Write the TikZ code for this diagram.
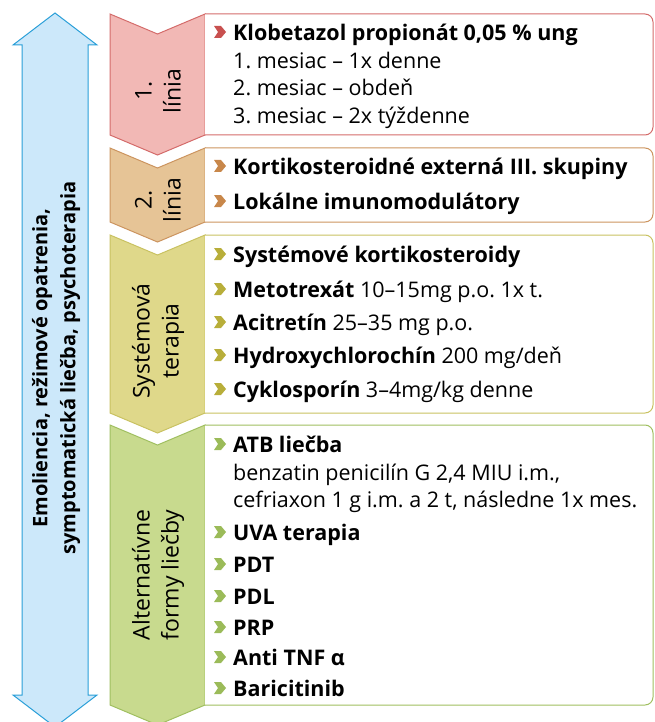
\documentclass[tikz,border=0pt]{standalone}
\usepackage{fontspec}
\setmainfont{Open Sans}
\frenchspacing
\definecolor{arrfill}{HTML}{CCE8FA}
\definecolor{arrline}{HTML}{2A9FD8}
\definecolor{onefill}{HTML}{F2B8B5}
\definecolor{oneline}{HTML}{D46C6B}
\definecolor{onebul}{HTML}{C8504F}
\definecolor{twofill}{HTML}{E6C496}
\definecolor{twoline}{HTML}{CC9560}
\definecolor{twobul}{HTML}{C8874A}
\definecolor{sysfill}{HTML}{DFD88A}
\definecolor{sysline}{HTML}{C9C262}
\definecolor{sysbul}{HTML}{B8AE3A}
\definecolor{altfill}{HTML}{C8DA8E}
\definecolor{altline}{HTML}{A0BF60}
\definecolor{altbul}{HTML}{9BBB59}
\newcommand{\bulmark}[2]{\fill[#1,shift={(220,#2)}] (-6,-6) -- (1,-6) -- (6,0) -- (1,6) -- (-6,6) -- (-2,0) -- cycle;}
\tikzset{
  chev/.style={line width=1pt},
  itembox/.style={fill=white,line width=1pt,rounded corners=8pt},
  item/.style={anchor=west,inner sep=0pt,text height=14.8pt,text depth=0pt,font=\fontsize{21.5}{26}\selectfont},
  chevtext/.style={rotate=90,align=center,font=\fontsize{23}{29}\selectfont},
}
\begin{document}
\begin{tikzpicture}[x=1pt,y=-1pt]
  \useasboundingbox (0,0) rectangle (655,722);
  % double arrow on the left
  \draw[fill=arrfill,draw=arrline,line width=1pt] (22,45) -- (13,45) -- (55,13) -- (97,45) -- (88,45)
    -- (88,695) -- (97,695) -- (55,727) -- (13,695) -- (22,695) -- cycle;
  \node[rotate=90,align=center,font=\bfseries\fontsize{20}{28}\selectfont] (care) at (56,368)
    {Emoliencia, režimové opatrenia,\\symptomatická liečba, psychoterapia};
  % 1. linia
  \draw[chev,fill=onefill,draw=oneline] (110,14) -- (157.5,34) -- (205,14) -- (205,135) -- (157.5,155) -- (110,135) -- cycle;
  \draw[itembox,draw=oneline] (205,135) -- (653,135) -- (653,14) -- (205,14);
  \node[chevtext] (first) at (158,91) {1.\\línia};
  \bulmark{onebul}{32}
  \node[item] (klob) at (233,33) {\textbf{Klobetazol propionát 0,05 \% ung}};
  \node[item] (m1) at (233,61) {1. mesiac – 1x denne};
  \node[item] (m2) at (233,88) {2. mesiac – obdeň};
  \node[item] (m3) at (233,116) {3. mesiac – 2x týždenne};
  % 2. linia
  \draw[chev,fill=twofill,draw=twoline] (110,148) -- (157.5,168) -- (205,148) -- (205,222) -- (157.5,242) -- (110,222) -- cycle;
  \draw[itembox,draw=twoline] (205,222) -- (653,222) -- (653,148) -- (205,148);
  \node[chevtext] (second) at (158,200) {2.\\línia};
  \bulmark{twobul}{166}
  \node[item] (kort) at (233,167) {\textbf{Kortikosteroidné externá III. skupiny}};
  \bulmark{twobul}{201}
  \node[item] (imun) at (233,202) {\textbf{Lokálne imunomodulátory}};
  % systemova terapia
  \draw[chev,fill=sysfill,draw=sysline] (110,235) -- (157.5,255) -- (205,235) -- (205,413) -- (157.5,433) -- (110,413) -- cycle;
  \draw[itembox,draw=sysline] (205,413) -- (653,413) -- (653,235) -- (205,235);
  \node[chevtext] (syst) at (158,341) {Systémová\\terapia};
  \bulmark{sysbul}{254}
  \node[item] (skort) at (233,255) {\textbf{Systémové kortikosteroidy}};
  \bulmark{sysbul}{289}
  \node[item] (mtx) at (233,290) {\textbf{Metotrexát} 10–15mg p.o. 1x t.};
  \bulmark{sysbul}{322}
  \node[item] (acit) at (233,323) {\textbf{Acitretín} 25–35 mg p.o.};
  \bulmark{sysbul}{355}
  \node[item] (hcq) at (233,356) {\textbf{Hydroxychlorochín} 200 mg/deň};
  \bulmark{sysbul}{389}
  \node[item] (cyc) at (233,390) {\textbf{Cyklosporín} 3–4mg/kg denne};
  % alternativne formy liecby
  \draw[chev,fill=altfill,draw=altline] (110,425) -- (157.5,445) -- (205,425) -- (205,705) -- (157.5,725) -- (110,705) -- cycle;
  \draw[itembox,draw=altline] (205,705) -- (653,705) -- (653,425) -- (205,425);
  \node[chevtext] (alt) at (158,575) {Alternatívne\\formy liečby};
  \bulmark{altbul}{444}
  \node[item] (atb) at (233,445) {\textbf{ATB liečba}};
  \node[item] (benz) at (233,473) {benzatin penicilín G 2,4 MIU i.m.,};
  \node[item] (ceft) at (233,500) {cefriaxon 1 g i.m. a 2 t, následne 1x mes.};
  \bulmark{altbul}{532}
  \node[item] (uva) at (233,533) {\textbf{UVA terapia}};
  \bulmark{altbul}{564}
  \node[item] (pdt) at (233,565) {\textbf{PDT}};
  \bulmark{altbul}{596}
  \node[item] (pdl) at (233,597) {\textbf{PDL}};
  \bulmark{altbul}{627}
  \node[item] (prp) at (233,628) {\textbf{PRP}};
  \bulmark{altbul}{657}
  \node[item] (tnf) at (233,658) {\textbf{Anti TNF α}};
  \bulmark{altbul}{688}
  \node[item] (bari) at (233,689) {\textbf{Baricitinib}};
\end{tikzpicture}
\end{document}
